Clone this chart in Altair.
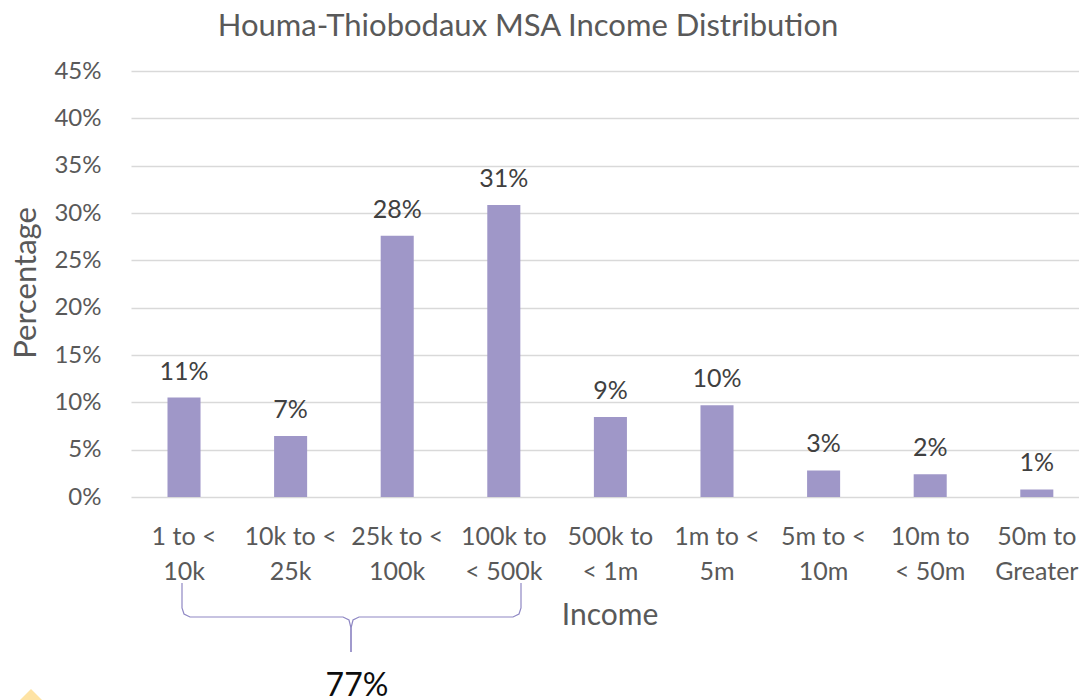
import altair as alt
import pandas as pd

# ---- data ----
label_line1 = ["1 to <", "10k to <", "25k to <", "100k to", "500k to", "1m to <", "5m to <", "10m to", "50m to"]
label_line2 = ["10k", "25k", "100k", "< 500k", "< 1m", "5m", "10m", "< 50m", "Greater"]
categories = [a + " " + b for a, b in zip(label_line1, label_line2)]
percent_values = [10.5, 6.45, 27.6, 30.85, 8.45, 9.7, 2.8, 2.4, 0.8]
percent_labels = ["11%", "7%", "28%", "31%", "9%", "10%", "3%", "2%", "1%"]
y_ticks = [0, 5, 10, 15, 20, 25, 30, 35, 40, 45]
group_total_label = "77%"

# brace annotation (pixel path relative to the plot area)
brace_x = [51, 51, 53, 59, 212, 218, 220, 220, 390, 390, 388, 382, 228, 222, 220, 220]
brace_y = [512, 537, 543, 546, 546, 549, 557, 581, 512, 537, 543, 546, 546, 549, 557, 581]
brace_side = ["L"] * 8 + ["R"] * 8

df = pd.DataFrame({
    "cat": categories,
    "l1": label_line1,
    "l2": label_line2,
    "pct": percent_values,
    "lab": percent_labels,
})
brace = pd.DataFrame({"x": brace_x, "y": brace_y, "side": brace_side, "i": list(range(len(brace_x)))})

W, H = 948, 426
FONT = "Lato"
BAR = "#9F97C8"

xscale = alt.Scale(domain=categories, paddingInner=0.69, paddingOuter=0.2916, align=0.587)
yscale = alt.Scale(domain=[0, 45], nice=False)

X = alt.X("cat:N", scale=xscale, sort=categories,
          axis=alt.Axis(labels=False, ticks=False, domain=False, title=None, grid=False))

bars = alt.Chart(df).mark_bar(color=BAR).encode(
    x=X,
    y=alt.Y("pct:Q", scale=yscale,
            axis=alt.Axis(values=y_ticks, labelExpr="datum.value + '%'", title=None,
                          domain=False, ticks=False, tickSize=0, labelPadding=30,
                          labelFontSize=24, labelColor="#595959", labelFont=FONT,
                          grid=True, gridColor="#D9D9D9", gridWidth=1.3)),
)

bar_labels = alt.Chart(df).mark_text(fontSize=25, font=FONT, color="#404040", baseline="middle", dy=-26).encode(
    x=X, y=alt.Y("pct:Q", scale=yscale), text="lab:N"
)

xl1 = alt.Chart(df).mark_text(fontSize=25, font=FONT, color="#595959", baseline="middle").encode(
    x=X, y=alt.value(H + 40), text="l1:N"
)
xl2 = alt.Chart(df).mark_text(fontSize=25, font=FONT, color="#595959", baseline="middle").encode(
    x=X, y=alt.value(H + 75), text="l2:N"
)

title_df = pd.DataFrame({"t": ["Houma-Thiobodaux MSA Income Distribution"]})
title = alt.Chart(title_df).mark_text(fontSize=31, font=FONT, color="#595959", baseline="middle").encode(
    x=alt.value(397), y=alt.value(-44), text="t:N"
)
ytitle_df = pd.DataFrame({"t": ["Percentage"]})
ytitle = alt.Chart(ytitle_df).mark_text(fontSize=31, font=FONT, color="#595959", baseline="middle", angle=270).encode(
    x=alt.value(-104), y=alt.value(212), text="t:N"
)
xtitle_df = pd.DataFrame({"t": ["Income"]})
xtitle = alt.Chart(xtitle_df).mark_text(fontSize=30, font=FONT, color="#595959", baseline="middle").encode(
    x=alt.value(479), y=alt.value(545), text="t:N"
)

brace_line = alt.Chart(brace).mark_line(color="#8F88C4", strokeWidth=1.2).encode(
    x=alt.X("x:Q", scale=None, axis=None),
    y=alt.Y("y:Q", scale=None, axis=None),
    detail="side:N",
    order="i:Q",
)

total_df = pd.DataFrame({"t": [group_total_label]})
total = alt.Chart(total_df).mark_text(fontSize=32, font=FONT, color="#0D0D0D", baseline="middle").encode(
    x=alt.value(226), y=alt.value(615), text="t:N"
)

# small decorative yellow shape peeking in at the bottom-left corner
deco = alt.Chart(pd.DataFrame({"k": [0]})).mark_point(
    shape="M0,-1L1,0L0,1L-1,0Z", filled=True, opacity=1, color="#FEE3A4", size=784
).encode(x=alt.value(-100), y=alt.value(632))

chart = alt.layer(bars, bar_labels, xl1, xl2, title, ytitle, xtitle, brace_line, total, deco).resolve_scale(
    x="shared", y="independent"
).properties(
    width=W, height=H,
    autosize=alt.AutoSizeParams(type="none"),
    padding={"left": 123, "top": 63, "right": 0, "bottom": 203},
    background="white",
).configure_view(strokeWidth=0)

chart.save("out.html", embed_options={"renderer": "svg", "actions": False})
